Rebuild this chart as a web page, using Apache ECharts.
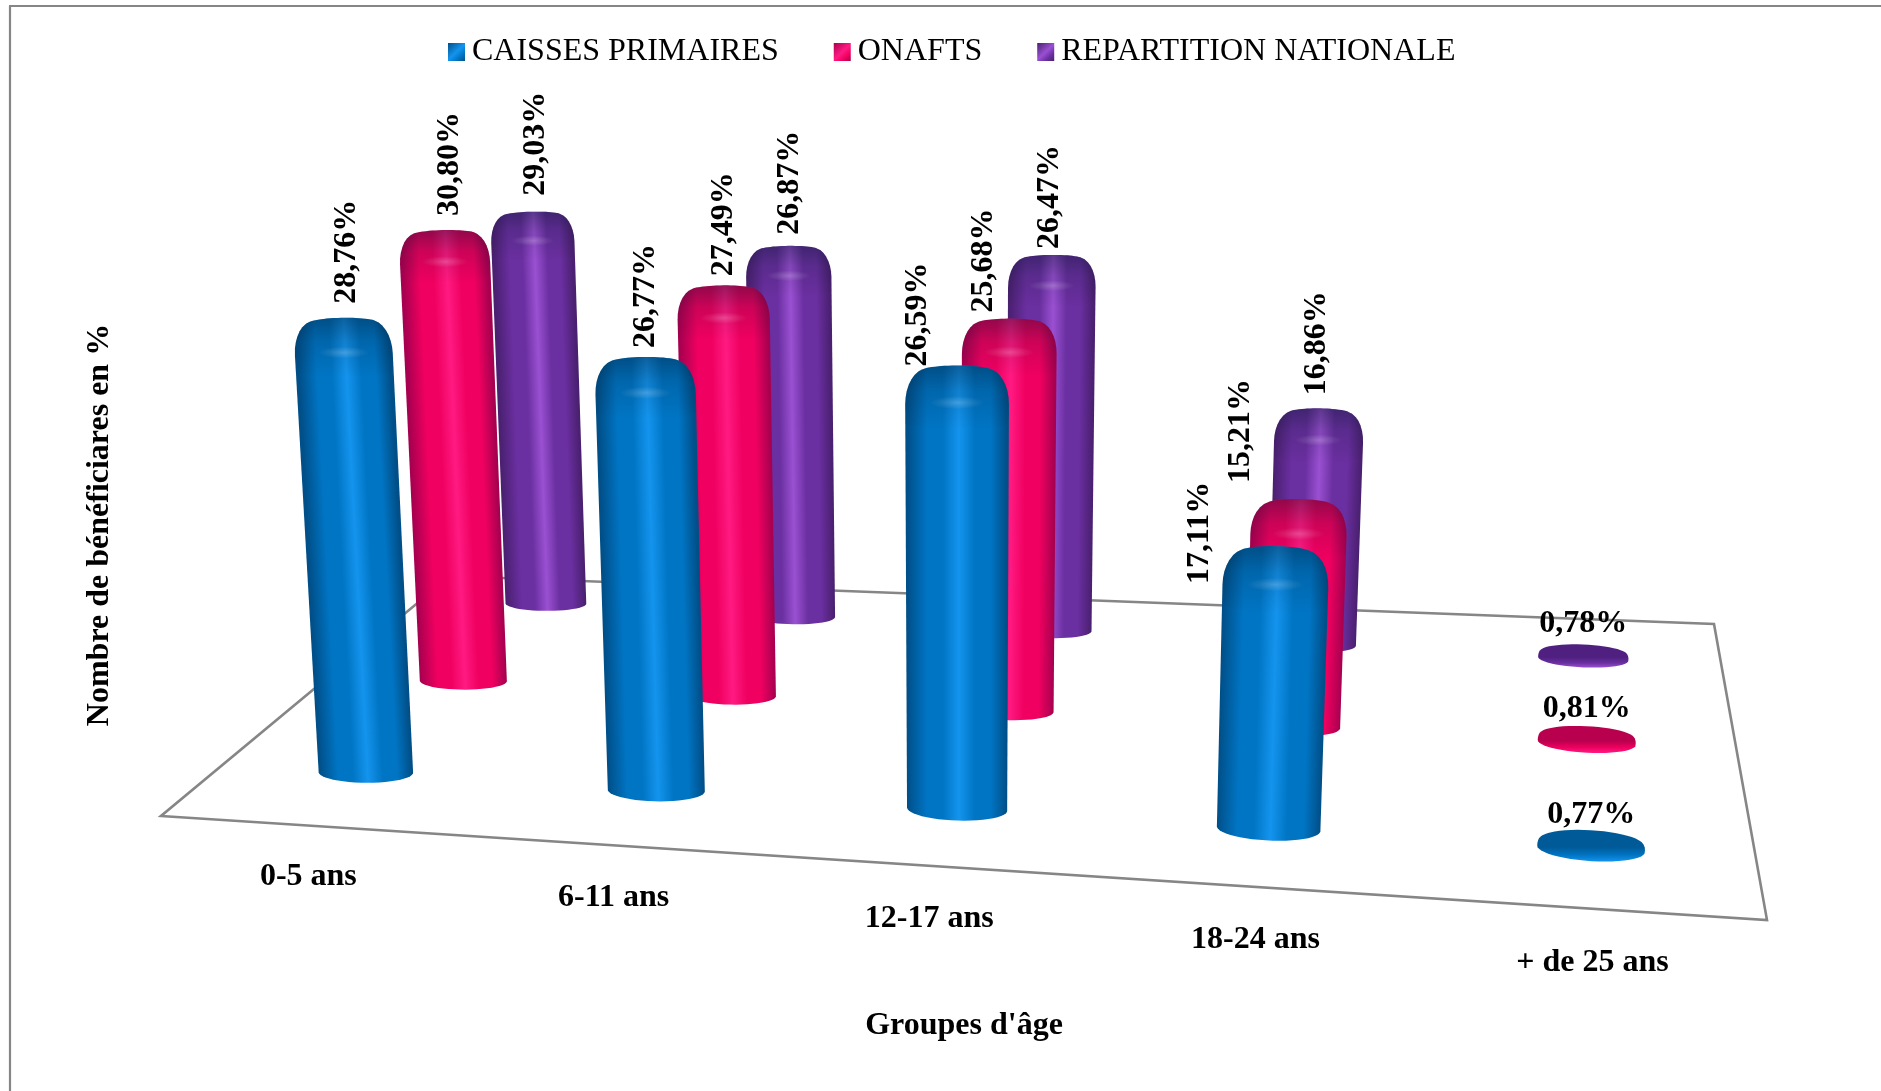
<!DOCTYPE html>
<html><head><meta charset="utf-8">
<style>html,body{margin:0;padding:0;background:#fff}#c{width:1881px;height:1091px}</style>
<script src="https://cdn.jsdelivr.net/npm/echarts@6/dist/echarts.min.js"></script>
</head><body><div id="c"></div>
<script>
const categories = ['0-5 ans','6-11 ans','12-17 ans','18-24 ans','+ de 25 ans'];
const caissesPrimaires = [28.76,26.77,26.59,17.11,0.77];
const onafts = [30.80,27.49,25.68,15.21,0.81];
const repartitionNationale = [29.03,26.87,26.47,16.86,0.78];
const legendNames = ['CAISSES PRIMAIRES','ONAFTS','REPARTITION NATIONALE'];
const xTitle = "Groupes d'âge";
const yTitle = 'Nombre de bénéficiares en %';

/* ---- layout of the perspective floor (pixels) ---- */
const FL=[161,816],FR=[1767,920],BR=[1714,624],BL=[450,576];
const VP=[958,12000];
const HEIGHT_PX=16.4;            // px per % at the front-left corner
const TOP_INSET=1.6;             // the rounded cap sits a little under the nominal height
const DEPTHS={0:0.18,1:0.52,2:0.85};
const R_X=0.0295,R_Z=0.036,BEVEL=1.9;
const Y_MAX=35,GRID={left:200,top:100,width:1528,height:850};
const FONT='"Liberation Serif","Times New Roman",serif';
// hand-placed label offsets of the reference [series][category] = [dx,dy]
const labelNudge=[
 [[5,-3],[1,2],[-39,12],[-76,49],[2,6]],
 [[6,-3],[1,2],[-25,5],[-58,-5],[2,4]],
 [[4,-5],[2,0],[-2,5],[-3,-2],[2,0]]];
const palette=[
 {edge:'#004f88',mid:'#0075c4',hi:'#1494ee',dark:'#005a98'},
 {edge:'#a80050',mid:'#f00060',hi:'#ff1a82',dark:'#b8004e'},
 {edge:'#4a2070',mid:'#6a2fa0',hi:'#9a50d2',dark:'#4f2080'}];

const x0=FL[0],y0=FL[1],x1=FR[0],y1=FR[1],x2=BR[0],y2=BR[1],x3=BL[0],y3=BL[1];
const dx1=x1-x2,dx2=x3-x2,sx=x0-x1+x2-x3,dy1=y1-y2,dy2=y3-y2,sy=y0-y1+y2-y3;
const den=dx1*dy2-dx2*dy1,g=(sx*dy2-dx2*sy)/den,h=(dx1*sy-sx*dy1)/den;
const a=x1-x0+g*x1,b=x3-x0+h*x3,d=y1-y0+g*y1,e=y3-y0+h*y3;
const K=-HEIGHT_PX/(VP[1]-y0);
function P(X,Z,Y){
  const w=g*X+h*Z+1+Y*K;
  return [(a*X+b*Z+x0+Y*K*VP[0])/w,(d*X+e*Z+y0+Y*K*VP[1])/w];
}
const warpX=X=>X+0.068*X*(1-X);
const warpZ=(Z,X)=>Z+0.097*(0.6-X)*Z*Z-0.02*X*(1-Z)*(1-Z);
function ring(X,Z,Y,s,rs){
  const pts=[];
  for(let i=0;i<48;i++){const t=i/48*Math.PI*2;
    pts.push(P(X+R_X*rs*s*Math.cos(t),Z+R_Z*s*Math.sin(t),Y));}
  return pts;
}
function hull(points){
  const p=points.slice().sort((u,v)=>u[0]-v[0]||u[1]-v[1]);
  const cr=(o,u,v)=>(u[0]-o[0])*(v[1]-o[1])-(u[1]-o[1])*(v[0]-o[0]);
  const lo=[],up=[];
  for(const q of p){while(lo.length>1&&cr(lo[lo.length-2],lo[lo.length-1],q)<=0)lo.pop();lo.push(q);}
  for(let i=p.length-1;i>=0;i--){const q=p[i];while(up.length>1&&cr(up[up.length-2],up[up.length-1],q)<=0)up.pop();up.push(q);}
  lo.pop();up.pop();return lo.concat(up);
}
function pct(v){return v.toFixed(2).replace('.',',')+'%';}

function cylinderSeries(si,name,values){
  return {type:'custom',name,coordinateSystem:'cartesian2d',silent:true,
    data:values.map((v,i)=>[i,v]),encode:{x:0,y:1},
    itemStyle:{color:palette[si].mid},
    renderItem(params,api){
      const cs=params.coordSys,cat=api.value(0),val=api.value(1);
      const top=api.coord([cat,val]),base=api.coord([cat,0]);
      const X0=(top[0]-cs.x)/cs.width,X=warpX(X0),Z=warpZ(DEPTHS[si],X0);
      const Yv=(base[1]-top[1])/cs.height*Y_MAX,Y=Math.max(Yv*0.5,Yv-TOP_INSET);
      const tall=Y>3,rs=1.16-0.12*X0;
      const bev=tall?BEVEL:Y*0.8,rho=tall?0.4:0.05;
      const rings=[ring(X,Z,0,1,rs)],topRings=[];
      for(let i=0;i<=8;i++){
        const t=i/8*Math.PI/2;
        const r=ring(X,Z,Y-bev*(1-Math.sin(t)),1-rho*(1-Math.cos(t)),rs);
        rings.push(r);topRings.push(r);
      }
      const body=hull(rings.flat());
      const B=P(X,Z,0),T=P(X,Z,Y);
      const rad=(P(X+R_X*rs,Z,0)[0]-P(X-R_X*rs,Z,0)[0])/2;
      const ax=[T[0]-B[0],T[1]-B[1]],L=Math.hypot(ax[0],ax[1])||1;
      const n=[-ax[1]/L,ax[0]/L];
      const dir=n[0]<0?-1:1,Cx=(B[0]+T[0])/2,Cy=(B[1]+T[1])/2;
      const col=palette[si];
      const children=[];
      if(tall){
        const grad=new echarts.graphic.LinearGradient(
          Cx-dir*n[0]*rad,Cy-dir*n[1]*rad,Cx+dir*n[0]*rad,Cy+dir*n[1]*rad,
          [{offset:0,color:col.edge},{offset:.2,color:col.mid},{offset:.36,color:col.mid},
           {offset:.52,color:col.hi},{offset:.68,color:col.mid},{offset:.84,color:col.mid},{offset:1,color:col.edge}],true);
        children.push({type:'polygon',shape:{points:body},style:{fill:grad}});
        const capRings=topRings.concat([ring(X,Z,Y-bev*1.5,1,rs)]);
        children.push({type:'polygon',shape:{points:hull(capRings.flat())},style:{
          fill:new echarts.graphic.LinearGradient(0,0,0,1,[
            {offset:0,color:'rgba(0,20,40,0.40)'},{offset:.4,color:'rgba(0,20,40,0.15)'},{offset:1,color:'rgba(0,20,40,0)'}])}});
        const H=P(X,Z,Y-bev*0.95),ry=rad*.13;
        children.push({type:'circle',x:H[0],y:H[1],scaleX:4.2,shape:{cx:0,cy:0,r:ry},style:{
          fill:new echarts.graphic.RadialGradient(.5,.5,.5,[
            {offset:0,color:'rgba(255,255,255,0.2)'},{offset:1,color:'rgba(255,255,255,0)'}])}});
      }else{
        children.push({type:'polygon',shape:{points:body},style:{
          fill:new echarts.graphic.LinearGradient(0,0,0,1,[
            {offset:0,color:col.dark},{offset:.55,color:col.dark},{offset:.8,color:col.mid},{offset:1,color:col.hi}])}});
      }
      const nud=labelNudge[si][cat],font='bold 32px '+FONT;
      const ringTop=Math.min(...topRings[topRings.length-1].map(q=>q[1]));
      if(tall){
        children.push({type:'text',x:T[0]+nud[0],y:ringTop-11+nud[1],rotation:Math.PI/2,
          style:{text:pct(val),x:0,y:0,font,fill:'#000',align:'left',verticalAlign:'middle'}});
      }else{
        children.push({type:'text',x:T[0]-2+nud[0],y:ringTop-21+nud[1],
          style:{text:pct(val),x:0,y:0,font,fill:'#000',align:'center',verticalAlign:'middle'}});
      }
      return {type:'group',children};
    }};
}

const floorSeries={type:'custom',name:'floor',silent:true,data:[[0,0]],encode:{x:0,y:1},
  renderItem(){
    const pts=[P(0,0,0),P(1,0,0),P(1,1,0),P(0,1,0)];
    return {type:'polygon',shape:{points:pts},style:{fill:'none',stroke:'#868686',lineWidth:2.6,lineJoin:'miter'}};
  }};
const labelSeries={type:'custom',name:'labels',silent:true,
  data:categories.map((c,i)=>[i,0]),encode:{x:0,y:1},
  renderItem(params,api){
    const cs=params.coordSys,cat=api.value(0);
    const X=(api.coord([cat,0])[0]-cs.x)/cs.width;
    const p=P(warpX(X)+0.039-0.045*X,-0.15+0.015*X,0);
    return {type:'text',x:p[0],y:p[1],style:{text:categories[cat],x:0,y:0,
      font:'bold 32px '+FONT,fill:'#000',align:'center',verticalAlign:'middle'}};
  }};

function swatch(c){return new echarts.graphic.LinearGradient(0,0,1,1,[
  {offset:0,color:c.edge},{offset:.5,color:c.hi},{offset:.75,color:c.mid},{offset:1,color:c.edge}]);}

const chart=echarts.init(document.getElementById('c'),null,{renderer:'canvas',width:1881,height:1091});
chart.setOption({
  animation:false,backgroundColor:'#fff',
  textStyle:{fontFamily:FONT},
  legend:{left:443,top:31,itemGap:55,itemWidth:17,itemHeight:18,icon:'rect',selectedMode:false,
    textStyle:{fontFamily:FONT,fontSize:32,color:'#000',padding:[0,0,0,2]},
    data:legendNames.map((n,i)=>({name:n,icon:'rect',itemStyle:{color:swatch(palette[i])}}))},
  grid:{left:GRID.left,top:GRID.top,width:GRID.width,height:GRID.height,show:false},
  xAxis:{type:'category',data:categories,axisLine:{show:false},axisTick:{show:false},axisLabel:{show:false},splitLine:{show:false},
    name:xTitle,nameLocation:'middle',nameGap:60,
    nameTextStyle:{fontFamily:FONT,fontSize:32,fontWeight:'bold',color:'#000'}},
  yAxis:{type:'value',min:0,max:Y_MAX,interval:5,axisLine:{show:false},axisTick:{show:false},axisLabel:{show:false},splitLine:{show:false},
    name:yTitle,nameLocation:'middle',nameGap:84,nameRotate:90,
    nameTextStyle:{fontFamily:FONT,fontSize:32,fontWeight:'bold',color:'#000'}},
  graphic:[
    {type:'line',shape:{x1:10,y1:6,x2:10,y2:1091},style:{stroke:'#868686',lineWidth:2.2}},
    {type:'line',shape:{x1:9,y1:6,x2:1881,y2:6},style:{stroke:'#868686',lineWidth:2.2}}],
  series:[floorSeries,labelSeries,
    cylinderSeries(2,legendNames[2],repartitionNationale),
    cylinderSeries(1,legendNames[1],onafts),
    cylinderSeries(0,legendNames[0],caissesPrimaires)]
});
</script></body></html>
